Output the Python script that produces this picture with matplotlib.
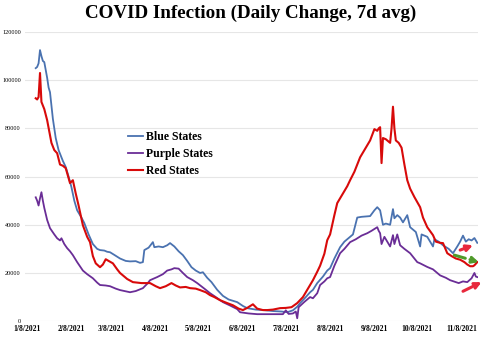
import matplotlib
matplotlib.use('Agg')
import matplotlib.pyplot as plt
import pandas as pd

BASE = pd.Timestamp('2021-01-08')

# days since 1/8/2021, values in thousands
blue_days = [6, 7, 8, 9, 10, 11, 12, 14, 15, 16, 18, 20, 22, 25, 27, 29, 31, 33, 35, 38,
             40, 43, 46, 49, 51, 54, 56, 58, 61, 65, 69, 72, 76, 79, 81, 82, 85, 88, 89, 92,
             95, 98, 100, 103, 106, 109, 112, 115, 118, 121, 123, 126, 129, 133, 137, 141, 147, 151, 154, 160,
             165, 172, 178, 182, 186, 189, 191, 195, 198, 200, 203, 207, 210, 212, 215, 219, 222, 226, 228, 231,
             234, 238, 240, 243, 245, 247, 249, 251, 254, 256, 257, 259, 261, 263, 266, 268, 272, 275, 276, 280,
             284, 285, 288, 291, 295, 298, 301, 303, 305, 307, 309, 311, 313, 315]
blue_vals = [105, 105.5, 107, 112.5, 110, 108, 107.5, 101, 97, 95, 84, 76, 71, 66.5, 64, 60, 55.6, 50, 46, 43,
             40.7, 36, 32, 30, 29.5, 29.3, 28.8, 28.6, 27.5, 26, 25, 24.8, 24.9, 24.2, 24.5, 29.5, 30.5, 32.8, 30.7, 31,
             30.7, 31.5, 32.4, 31, 29, 27.4, 25, 22.4, 21, 20, 20.3, 18, 16.2, 13, 10.5, 9, 7.9, 6.3, 5.4, 4.8,
             4.6, 4.2, 4.0, 3.7, 4.5, 6, 7.5, 10, 12, 13, 15.8, 18.5, 21, 22, 26, 30.7, 33, 35, 36, 43,
             43.3, 43.5, 43.6, 46, 47.3, 46, 40, 40.5, 40, 46.5, 42.7, 44, 43, 41, 44, 39, 37, 31, 36, 35,
             31, 34, 33, 31.5, 30, 28.2, 31, 33, 35.5, 33, 34, 33.5, 34.5, 32.5]

purple_days = [6, 7, 8, 9, 10, 11, 12, 14, 16, 19, 21, 23, 24, 26, 28, 30, 32, 35, 39, 42,
               46, 49, 51, 55, 58, 62, 65, 72, 76, 81, 84, 86, 91, 95, 98, 101, 103, 106, 109, 112,
               116, 119, 124, 128, 132, 137, 142, 147, 149, 155, 161, 170, 179, 181, 183, 186, 188, 189, 190, 194,
               198, 200, 203, 205, 208, 210, 212, 215, 219, 222, 226, 230, 234, 238, 241, 245, 246, 247, 248, 250,
               252, 254, 256, 257, 259, 261, 264, 268, 273, 275, 280, 284, 289, 293, 296, 300, 302, 305, 308, 311,
               313, 314, 315]
purple_vals = [51.4, 50, 48, 51, 53.5, 50, 47, 42, 38.6, 36, 34.4, 33.5, 34.4, 32, 30.3, 29, 27.4, 24.5, 21, 19.5,
               17.8, 16, 15, 14.8, 14.5, 13.5, 12.9, 12, 12.5, 13.7, 15.5, 17, 18.3, 19.5, 21, 21.5, 22, 21.8, 20, 18.3,
               17, 15.8, 13.5, 11.6, 10, 7.9, 6.5, 5.0, 3.7, 3.2, 2.9, 2.9, 2.9, 4.5, 3.0, 3.2, 4.0, 1.2, 5.8, 8,
               10, 9.5, 11.6, 15, 16.5, 17.8, 18.3, 23, 28.2, 30, 32.8, 34, 35.5, 36.5, 37.5, 39, 37.5, 36.5, 32, 35,
               33, 31, 35.7, 32, 36, 31.5, 30, 28.2, 24.5, 24, 22.5, 21.5, 19, 18, 17, 16.2, 15.8, 16.5, 16.2, 17.8,
               20, 18.5, 18.3]

red_days = [6, 7, 8, 9, 10, 12, 14, 17, 19, 21, 23, 25, 27, 30, 32, 34, 36, 39, 42, 44,
            46, 48, 51, 53, 55, 57, 60, 63, 65, 70, 74, 80, 86, 90, 93, 97, 101, 104, 107, 111,
            114, 118, 121, 125, 128, 131, 135, 140, 144, 148, 151, 154, 158, 161, 165, 168, 172, 177, 181, 185,
            189, 193, 196, 200, 203, 205, 208, 210, 212, 215, 217, 219, 222, 224, 226, 229, 233, 236, 238, 240,
            243, 245, 246, 247, 248, 249, 251, 254, 255, 256, 257, 258, 260, 262, 264, 266, 268, 271, 275, 277,
            280, 284, 286, 289, 291, 294, 297, 300, 303, 306, 308, 310, 312, 313, 315]
red_vals = [92.5, 92, 93, 103, 91, 88, 83.4, 74, 71, 69.7, 65, 64.5, 63.5, 57.3, 58.5, 53, 48, 39.8, 35, 32.8,
            27, 24, 22.4, 23.5, 25.7, 25, 24, 21.5, 20, 17.5, 16.2, 15.8, 15.8, 14.5, 13.7, 14.5, 15.8, 14.8, 14, 14.2,
            13.7, 13.5, 12.9, 12, 10.8, 10, 8.7, 7.5, 6.6, 5.2, 4.6, 5.5, 7, 5.2, 4.6, 4.6, 4.8, 5.4, 5.5, 5.8,
            7.5, 10, 13, 17, 20.5, 23, 28, 33.6, 36, 44, 49, 51, 54, 56, 58.5, 62, 68, 71, 73, 75,
            79.7, 79, 80, 80.5, 65.6, 76, 75.5, 74, 80, 89, 80, 75, 74, 72, 65, 58.5, 55, 51.5, 47.3, 43,
            39, 35.7, 33, 32.5, 32.4, 28.2, 27, 26, 25.5, 24.5, 23.5, 22.8, 22.8, 23.2, 24.5]

tick_months = [1, 2, 3, 4, 5, 6, 7, 8, 9, 10, 11]
y_ticks = [0, 20000, 40000, 60000, 80000, 100000, 120000]

# hand-drawn arrows: (start day, start value, end day, end value) in thousands
arrows = [
    (303, 29.5, 312, 31.5, '#e8283c', '-'),
    (299, 27.4, 316, 24.5, '#4f9a2a', '--'),
    (305, 12.4, 318, 16.2, '#e8283c', '--'),
]


def to_dates(days):
    return [BASE + pd.Timedelta(days=d) for d in days]


def to_counts(vals):
    return [v * 1000 for v in vals]


fig = plt.figure(figsize=(5, 3.37), dpi=100)
ax = fig.add_axes([0.05, 0.047, 0.906, 0.858])

ax.plot(to_dates(blue_days), to_counts(blue_vals), color='#4a72b0', lw=1.3, label='Blue States')
ax.plot(to_dates(purple_days), to_counts(purple_vals), color='#6a2d96', lw=1.3, label='Purple States')
ax.plot(to_dates(red_days), to_counts(red_vals), color='#d80a0a', lw=1.5, label='Red States')

ax.set_xlim(BASE - pd.Timedelta(days=1.5), BASE + pd.Timedelta(days=315.5))
ax.set_ylim(0, 120000)
ax.set_yticks(y_ticks)
ax.set_yticklabels([str(t) for t in y_ticks], fontsize=4.5, family='Liberation Serif')
ticks = [pd.Timestamp(2021, m, 8) for m in tick_months]
ax.set_xticks(ticks)
ax.set_xticklabels(['%d/8/2021' % m for m in tick_months], fontsize=5.5,
                   family='Liberation Serif', fontweight='bold')
ax.tick_params(length=0, pad=3)
ax.grid(axis='y', color='#e6e6e6', lw=0.8)
ax.set_axisbelow(True)
for s in ax.spines.values():
    s.set_visible(False)

leg = ax.legend(loc='upper left', bbox_to_anchor=(0.205, 0.695), frameon=False,
                handlelength=1.2, handletextpad=0.3, labelspacing=0.45,
                prop={'family': 'Liberation Serif', 'size': 8.5, 'weight': 'bold'})

for d0, v0, d1, v1, c, ls in arrows:
    ax.annotate('', xy=(BASE + pd.Timedelta(days=d1), v1 * 1000),
                xytext=(BASE + pd.Timedelta(days=d0), v0 * 1000),
                annotation_clip=False,
                arrowprops=dict(arrowstyle='-|>', color=c, lw=2.2, ls=ls,
                                mutation_scale=9, shrinkA=0, shrinkB=0))

fig.suptitle('COVID Infection (Daily Change, 7d avg)', x=0.502, y=0.985,
             fontsize=13.7, fontweight='bold', family='Liberation Serif')

fig.savefig('out.png', dpi=100)
